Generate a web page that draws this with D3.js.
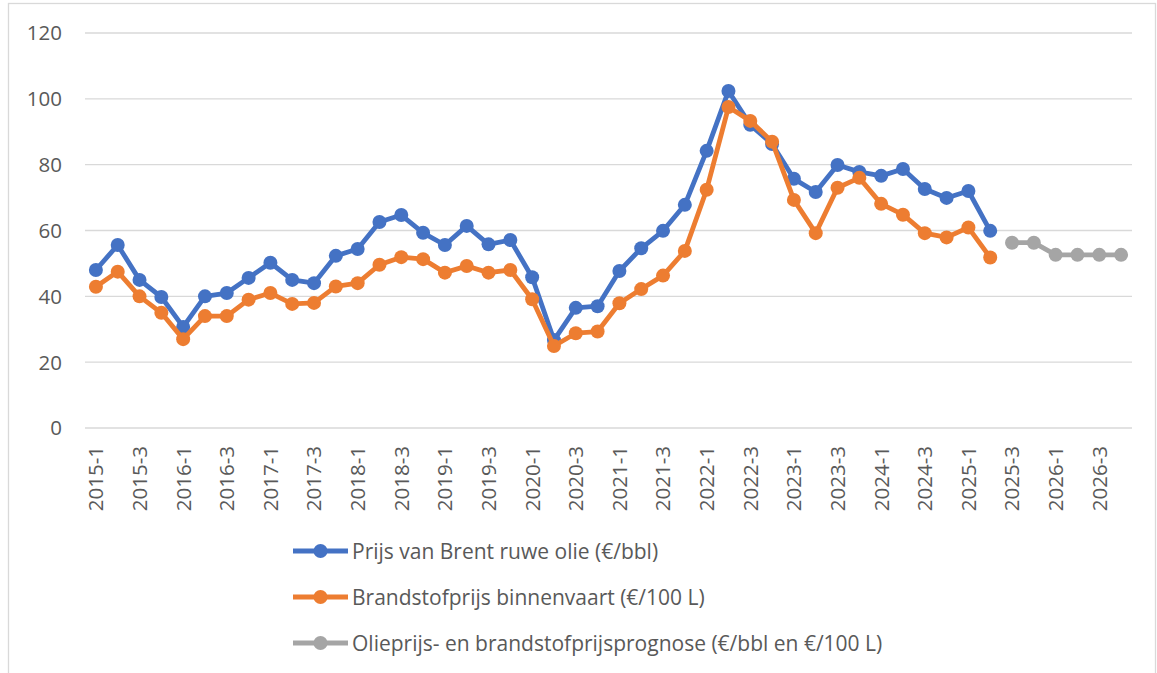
<!DOCTYPE html>
<html><head><meta charset="utf-8">
<script src="https://cdn.jsdelivr.net/npm/d3@7"></script>
<style>body{margin:0;background:#fff}svg{display:block}text{font-family:"Open Sans",sans-serif;fill:#595959}</style>
</head><body>
<svg id="c" width="1157" height="673"></svg>
<script>
const quarters = [];
for (let y = 2015; y <= 2026; y++) for (let q = 1; q <= 4; q++) quarters.push(y + "-" + q);
const brentValues = [48,55.6,45,39.8,30.7,40,41,45.6,50.2,45,44,52.3,54.4,62.6,64.7,59.3,55.6,61.4,55.8,57.1,45.8,26.7,36.5,37,47.7,54.6,59.9,67.8,84.2,102.4,92.1,86.3,75.7,71.7,79.9,77.8,76.6,78.7,72.6,69.9,72,59.9];
const fuelValues = [42.9,47.5,40,35,27,34,34,39,41,37.7,38,43,44,49.6,51.9,51.3,47.2,49.2,47.2,48,39.1,24.9,28.8,29.3,37.9,42.2,46.3,53.8,72.4,97.5,93.3,87,69.3,59.2,73,76,68.1,64.8,59.2,57.9,60.9,51.8];
const forecastValues = [56.3,56.3,52.6,52.6,52.6,52.6];
const forecastStart = "2025-3";
const yTicks = [0,20,40,60,80,100,120];
const seriesNames = ["Prijs van Brent ruwe olie (€/bbl)","Brandstofprijs binnenvaart (€/100 L)","Olieprijs- en brandstofprijsprognose (€/bbl en €/100 L)"];
const colors = ["#4472C4","#ED7D31","#A5A5A5"];

const svg = d3.select("#c");
svg.append("rect").attr("x",8.5).attr("y",3.5).attr("width",1147).attr("height",680).attr("fill","none").attr("stroke","#d9d9d9").attr("stroke-width",1.3);

const x = d3.scaleBand().domain(quarters).range([85,1132]).padding(0);
const y = d3.scaleLinear().domain([0,120]).range([428,33]);
const cx = d => x(d) + x.bandwidth()/2;

svg.append("g").selectAll("line").data(yTicks).join("line")
  .attr("x1",85).attr("x2",1132).attr("y1",d=>y(d)).attr("y2",d=>y(d))
  .attr("stroke","#d9d9d9").attr("stroke-width",1.4);
svg.append("g").selectAll("text").data(yTicks).join("text")
  .attr("x",62).attr("y",d=>y(d)).attr("dy","0.36em").attr("text-anchor","end")
  .style("font-size","20.5px").text(d=>d);

svg.append("g").selectAll("text").data(quarters.filter((d,i)=>i%2===0)).join("text")
  .attr("transform",d=>`translate(${cx(d)},446) rotate(-90)`)
  .attr("text-anchor","end").attr("dy","0.36em").style("font-size","20.5px").text(d=>d);

const fi = quarters.indexOf(forecastStart);
const series = [
  brentValues.map((v,i)=>({q:quarters[i],v})),
  fuelValues.map((v,i)=>({q:quarters[i],v})),
  forecastValues.map((v,i)=>({q:quarters[fi+i],v}))
];
const line = d3.line().x(d=>cx(d.q)).y(d=>y(d.v));
series.forEach((s,k)=>{
  const g = svg.append("g");
  g.append("path").datum(s).attr("d",line).attr("fill","none").attr("stroke",colors[k]).attr("stroke-width",4.8).attr("stroke-linejoin","round");
  g.selectAll("circle").data(s).join("circle").attr("cx",d=>cx(d.q)).attr("cy",d=>y(d.v)).attr("r",7).attr("fill",colors[k]);
});

const leg = svg.append("g");
const legY = [551,597,643];
seriesNames.forEach((n,k)=>{
  leg.append("line").attr("x1",293).attr("x2",348).attr("y1",legY[k]).attr("y2",legY[k]).attr("stroke",colors[k]).attr("stroke-width",4.8);
  leg.append("circle").attr("cx",320.5).attr("cy",legY[k]).attr("r",7).attr("fill",colors[k]);
  leg.append("text").attr("x",352).attr("y",legY[k]).attr("dy","0.36em").style("font-size","21px").text(n);
});
</script>
</body></html>
